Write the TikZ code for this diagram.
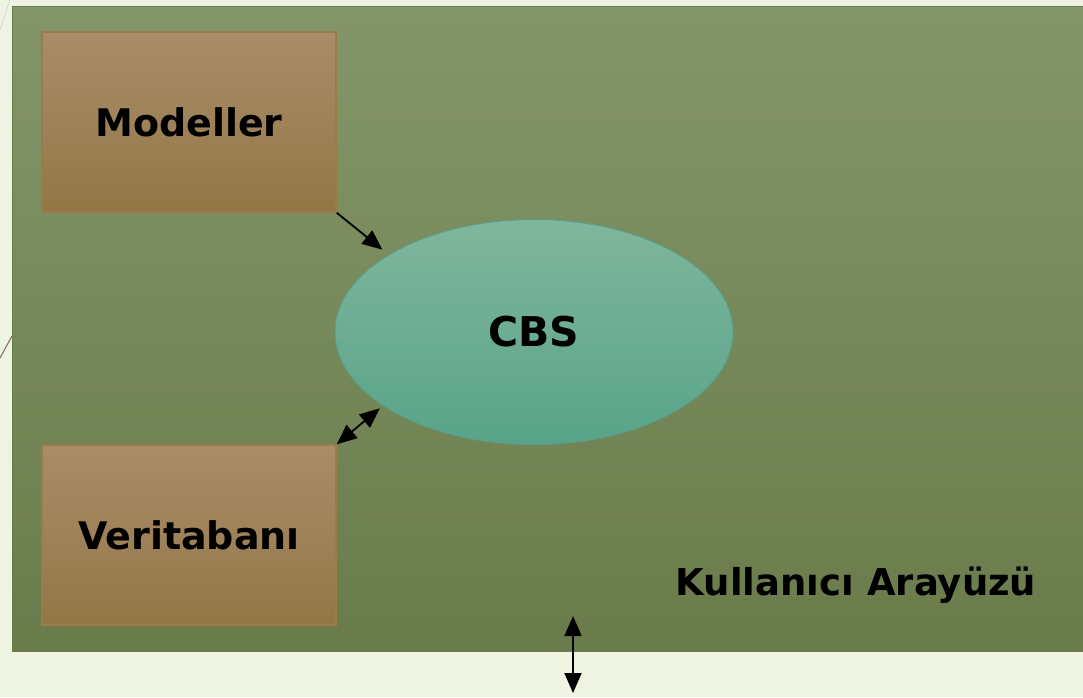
\documentclass[tikz,border=0pt]{standalone}
\usepackage{fontspec}
\setmainfont{DejaVu Sans}
\newfontfamily\labelfont{DejaVu Sans}
\usetikzlibrary{arrows.meta,shapes.geometric}
\definecolor{pagebg}{HTML}{EEF3E2}
\definecolor{paneltop}{HTML}{849569}
\definecolor{panelbot}{HTML}{6A7B4B}
\definecolor{panelline}{HTML}{6B7A4C}
\definecolor{boxtop}{HTML}{A98D69}
\definecolor{boxbot}{HTML}{947646}
\definecolor{boxline}{HTML}{9C7B4A}
\definecolor{elltop}{HTML}{80B69D}
\definecolor{ellbot}{HTML}{58A489}
\definecolor{ellline}{HTML}{5AA088}
\definecolor{deco}{HTML}{8A7F66}
\tikzset{
  lbl/.style={font=\labelfont\bfseries\fontsize{38}{42}\selectfont},
  brownbox/.style={lbl, draw=boxline, line width=1.5pt, top color=boxtop, bottom color=boxbot, minimum width=294pt, minimum height=180pt, inner sep=0pt},
  cbsell/.style={draw=ellline, line width=1pt, top color=elltop, bottom color=ellbot, minimum width=398pt, minimum height=225pt, inner sep=0pt, shape=ellipse, font=\labelfont\bfseries\fontsize{41}{44}\selectfont},
  conn/.style={line width=1.8pt, -{Triangle[length=20pt,width=17pt]}},
  dconn/.style={line width=1.8pt, {Triangle[length=20pt,width=17pt]}-{Triangle[length=20pt,width=17pt]}},
}
\begin{document}
\begin{tikzpicture}[x=1pt,y=-1pt]
\useasboundingbox (0,0) rectangle (1083,697);
\fill[pagebg] (0,0) rectangle (1083,697);
\draw[deco!40, line width=0.6pt] (0,30) -- (10,0);
\draw[deco, line width=1.2pt] (0,358) -- (12,336);
\node[draw=panelline, line width=1pt, top color=paneltop, bottom color=panelbot, minimum width=1073pt, minimum height=645pt, inner sep=0pt, anchor=north west] (panel) at (12,6) {};
\node[brownbox] (mod) at (189,122) {Modeller};
\node[brownbox] (ver) at (189,535) {Veritabanı};
\node[cbsell] (cbs) at (534,332) {CBS};
\node[lbl, font=\labelfont\bfseries\fontsize{37}{40}\selectfont, anchor=center] (ui) at (856,585) {Kullanıcı Arayüzü};
\coordinate (top) at (573,616);
\coordinate (bot) at (573,693);
\draw[conn, shorten >=8pt] (mod.south east) -- (cbs.152);
\draw[dconn, shorten >=4pt] (ver.north east) -- (cbs.206);
\draw[dconn] (top) -- (bot);
\end{tikzpicture}
\end{document}
